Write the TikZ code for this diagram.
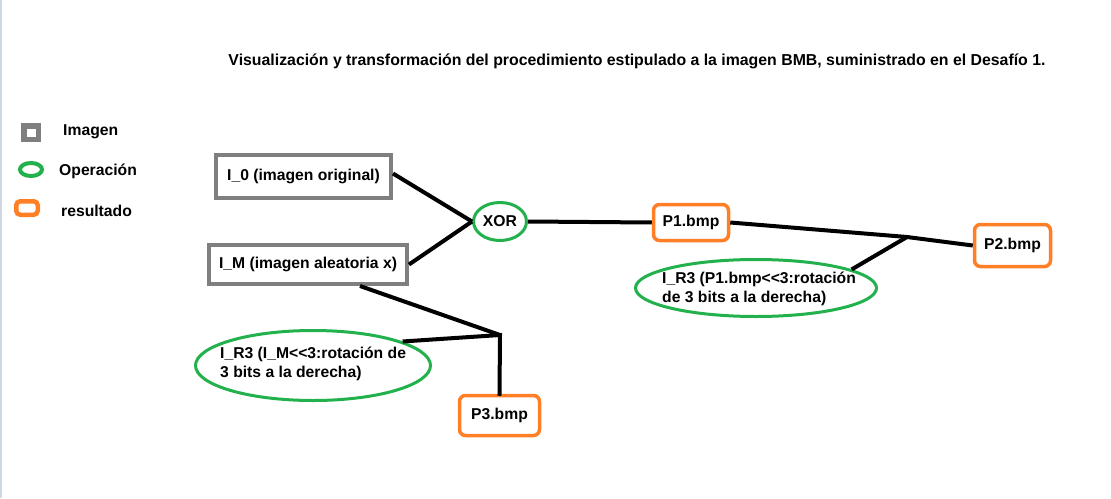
\documentclass[tikz,border=0pt]{standalone}
\usepackage{fontspec}
\setmainfont{Liberation Sans}
\usetikzlibrary{shapes.geometric,calc}
\definecolor{pgray}{RGB}{127,127,127}
\definecolor{pgreen}{RGB}{34,177,76}
\definecolor{porange}{RGB}{255,127,39}
\definecolor{edgeblue}{RGB}{205,215,230}
\tikzset{
  txt/.style={font=\fontsize{15.7}{18.5}\selectfont\bfseries, inner sep=0pt},
  imgbox/.style={draw=pgray, line width=4pt, fill=white, inner sep=0pt, txt},
  resbox/.style={draw=porange, line width=3.5pt, rounded corners=6pt, fill=white, inner sep=0pt, txt},
  opell/.style={draw=pgreen, line width=3pt, ellipse, fill=white, inner sep=0pt, txt},
  conn/.style={line width=4pt, black},
}
\begin{document}
\begin{tikzpicture}[x=1pt,y=-1pt]
\useasboundingbox (0,0) rectangle (1111,498);
\draw[edgeblue, line width=1.5pt] (0.75,0) -- (0.75,498);
% title
\node[txt, font=\fontsize{15.85}{18}\selectfont\bfseries] (title) at (637,61) {Visualización y transformación del procedimiento estipulado a la imagen BMB, suministrado en el Desafío 1.};
% legend
\node[imgbox, line width=5.5pt, minimum width=14.5pt, minimum height=13.5pt] (legimg) at (31,132.5) {};
\node[txt, anchor=west] (legimgt) at (63,132) {Imagen};
\node[opell, line width=4pt, minimum width=22pt, minimum height=13pt] (legop) at (31,169.5) {};
\node[txt, anchor=west] (legopt) at (59,171.5) {Operación};
\node[resbox, line width=4.5pt, rounded corners=4pt, minimum width=21.5pt, minimum height=13.5pt] (legres) at (27,208) {};
\node[txt, anchor=west] (legrest) at (61,211) {resultado};
% nodes
\node[imgbox, minimum width=175pt, minimum height=43pt] (i0) at (303.5,176.5) {I\_0 (imagen original)};
\node[imgbox, minimum width=198pt, minimum height=39pt] (im) at (308,264.5) {I\_M (imagen aleatoria x)};
\node[opell, minimum width=53pt, minimum height=38pt] (xor) at (500,221.5) {XOR};
\node[resbox, minimum width=75pt, minimum height=36pt] (p1) at (691,222.5) {P1.bmp};
\node[resbox, minimum width=76pt, minimum height=42pt] (p2) at (1012.5,245.5) {P2.bmp};
\node[resbox, minimum width=80pt, minimum height=40pt] (p3) at (499.5,415.5) {P3.bmp};
\node[opell, minimum width=241pt, minimum height=57pt] (r3b) at (756,288) {};
\node[txt, align=left, anchor=west] (r3bt) at (662,289) {I\_R3 (P1.bmp<{}<3:rotación\\de 3 bits a la derecha)};
\node[opell, minimum width=235pt, minimum height=70pt] (r3a) at (313,365.5) {};
\node[txt, align=left, anchor=west] (r3at) at (220,364) {I\_R3 (I\_M<{}<3:rotación de\\3 bits a la derecha)};
% junctions
\coordinate (j1) at (907,237);
\coordinate (j2) at (500,335);
% connectors
\draw[conn] (i0.east) ++(0,-3) coordinate (i0e) -- (xor.west);
\draw[conn] (im.east) -- (xor.west);
\draw[conn] (xor.east) -- (p1.west);
\draw[conn] (p1.east) -- (j1) -- (p2.west);
\draw[conn] (j1) -- (r3b.11);
\draw[conn] ($(im.south)+(52,0)$) coordinate (ims) -- (j2);
\draw[conn] (j2) -- (r3a.15);
\draw[conn, line cap=rect] (j2) -- (p3.north);
\end{tikzpicture}
\end{document}
